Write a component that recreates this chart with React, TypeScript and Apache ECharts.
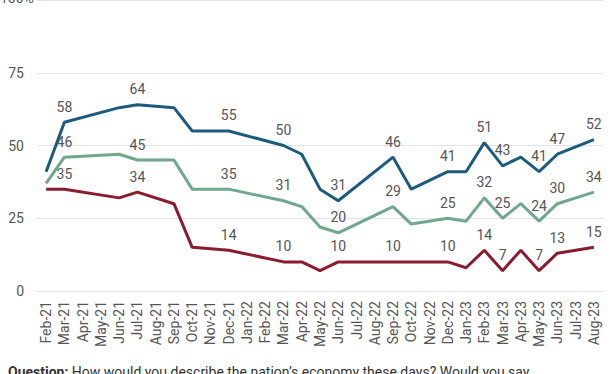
import React, { useEffect, useRef } from "react";
import * as echarts from "echarts";

const months = [
  "Feb-21", "Mar-21", "Apr-21", "May-21", "Jun-21", "Jul-21", "Aug-21", "Sep-21",
  "Oct-21", "Nov-21", "Dec-21", "Jan-22", "Feb-22", "Mar-22", "Apr-22", "May-22",
  "Jun-22", "Jul-22", "Aug-22", "Sep-22", "Oct-22", "Nov-22", "Dec-22", "Jan-23",
  "Feb-23", "Mar-23", "Apr-23", "May-23", "Jun-23", "Jul-23", "Aug-23",
];

const blueValues = [41, 58, null, null, 63, 64, null, 63, 55, null, 55, null, null, 50, 47, 35, 31, null, null, 46, 35, null, 41, 41, 51, 43, 46, 41, 47, null, 52];
const greenValues = [37, 46, null, null, 47, 45, null, 45, 35, null, 35, null, null, 31, 29, 22, 20, null, null, 29, 23, null, 25, 24, 32, 25, 30, 24, 30, null, 34];
const redValues = [35, 35, null, null, 32, 34, null, 30, 15, null, 14, null, null, 10, 10, 7, 10, null, null, 10, 10, null, 10, 8, 14, 7, 14, 7, 13, null, 15];

const labeledMonths = ["Mar-21", "Jul-21", "Dec-21", "Mar-22", "Jun-22", "Sep-22", "Dec-22", "Feb-23", "Mar-23", "May-23", "Jun-23", "Aug-23"];

const yTicks = [0, 25, 50, 75, 100];

const FONT = "Roboto, 'Noto Sans', sans-serif";
const TEXT = "#555555";

function buildData(values: (number | null)[]) {
  return values.map((v, i) => ({
    value: v,
    label: { show: v !== null && labeledMonths.includes(months[i]) },
  }));
}

function makeSeries(name: string, values: (number | null)[], color: string) {
  return {
    name,
    type: "line",
    data: buildData(values),
    connectNulls: true,
    symbol: "circle",
    symbolSize: 1,
    itemStyle: { color: "rgba(0,0,0,0)" },
    lineStyle: { color, width: 3 },
    emphasis: { disabled: true },
    label: {
      position: "top",
      distance: 8,
      color: TEXT,
      fontSize: 14,
      fontFamily: FONT,
    },
  };
}

export default function App() {
  const ref = useRef<HTMLDivElement>(null);
  useEffect(() => {
    if (!ref.current) return;
    const chart = echarts.init(ref.current, null, { renderer: "svg" });
    chart.setOption({
      animation: false,
      grid: { left: 37, right: 9, top: -1, bottom: 83 },
      xAxis: {
        type: "category",
        data: months,
        boundaryGap: true,
        axisLine: { show: false },
        axisTick: { show: false },
        axisLabel: {
          rotate: 90,
          interval: 0,
          margin: 10,
          color: TEXT,
          fontSize: 14,
          fontFamily: FONT,
        },
      },
      yAxis: {
        type: "value",
        min: yTicks[0],
        max: yTicks[yTicks.length - 1],
        interval: 25,
        axisLine: { show: false },
        axisTick: { show: false },
        splitLine: { lineStyle: { color: "#e3e3e3", width: 1 } },
        axisLabel: {
          margin: 13,
          color: TEXT,
          fontSize: 14,
          fontFamily: FONT,
          formatter: (v: number) => (v === 100 ? "" : String(v)),
        },
      },
      graphic: [
        {
          type: "text",
          left: 0,
          top: -9,
          style: { text: "100%", fill: TEXT, fontSize: 14, fontFamily: FONT },
        },
        {
          type: "text",
          left: 8,
          top: 365,
          style: {
            text: "{b|Question:} How would you describe the nation\u2019s economy these days? Would you say",
            fill: "#333333",
            fontSize: 14,
            fontFamily: FONT,
            rich: {
              b: { fontWeight: "bold", fontSize: 14, fontFamily: FONT, fill: "#333333" },
            },
          },
        },
      ],
      series: [
        makeSeries("Blue", blueValues, "#1d5b7e"),
        makeSeries("Green", greenValues, "#6fa88a"),
        makeSeries("Red", redValues, "#8a1c2f"),
      ],
    });
    return () => chart.dispose();
  }, []);
  return <div ref={ref} style={{ width: 612, height: 374, position: "absolute", left: 0, top: 0 }} />;
}
